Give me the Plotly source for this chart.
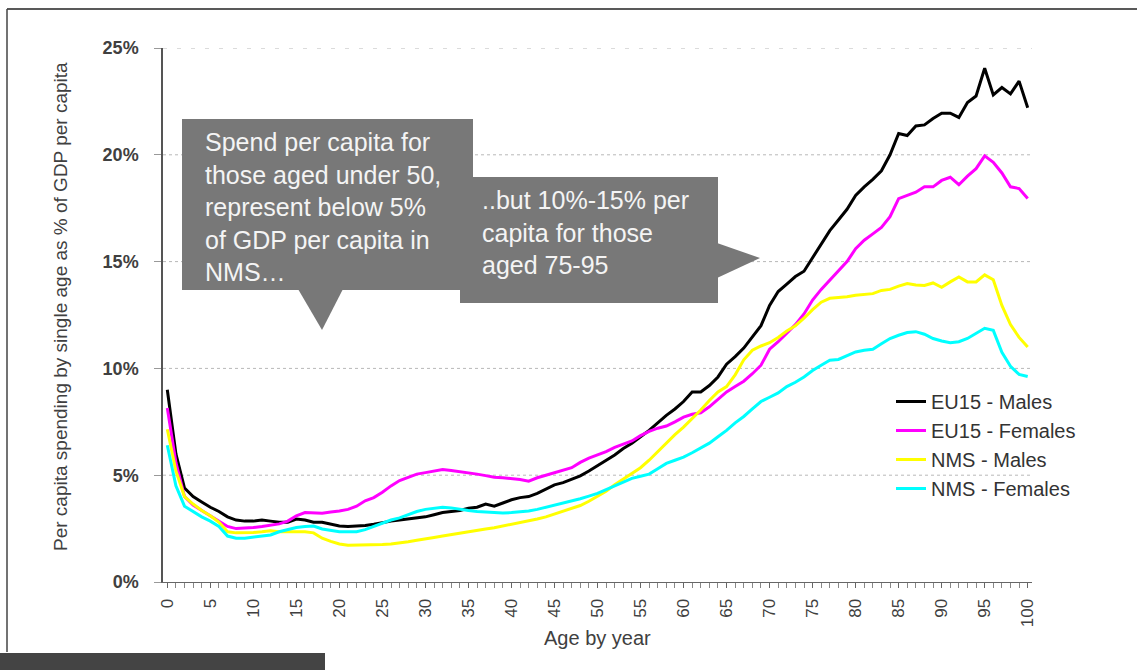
import plotly.graph_objects as go

# Ages 0..100
ages = list(range(0, 101))

# Per capita health spending by single age, % of GDP per capita
eu15_males = [
    9.0, 6.0, 4.4, 4.0, 3.75, 3.5, 3.3, 3.05, 2.9, 2.85,
    2.85, 2.9, 2.85, 2.8, 2.8, 2.95, 2.9, 2.8, 2.8, 2.7,
    2.62, 2.6, 2.62, 2.65, 2.7, 2.78, 2.85, 2.9, 2.95, 3.0,
    3.05, 3.15, 3.25, 3.3, 3.35, 3.45, 3.5, 3.65, 3.55, 3.7,
    3.85, 3.95, 4.0, 4.15, 4.35, 4.55, 4.65, 4.8, 4.97, 5.2,
    5.45, 5.7, 5.95, 6.25, 6.5, 6.8, 7.1, 7.45, 7.8, 8.1,
    8.45, 8.9, 8.9, 9.2, 9.6, 10.2, 10.55, 10.95, 11.5, 12.0,
    12.95, 13.6, 13.95, 14.3, 14.55, 15.2, 15.85, 16.45, 16.95, 17.45,
    18.1, 18.5, 18.85, 19.25, 20.0, 21.0, 20.9, 21.35, 21.4, 21.7,
    21.95, 21.95, 21.75, 22.45, 22.75, 24.05, 22.8, 23.15, 22.85, 23.45,
    22.2,
]
eu15_females = [
    8.15, 5.6, 4.0, 3.6, 3.35, 3.1, 2.85, 2.6, 2.5, 2.52,
    2.55, 2.6, 2.65, 2.72, 2.85, 3.1, 3.25, 3.25, 3.22, 3.28,
    3.32, 3.4, 3.55, 3.8, 3.95, 4.2, 4.5, 4.75, 4.9, 5.05,
    5.12, 5.2, 5.27, 5.22, 5.17, 5.12, 5.05, 4.98, 4.9, 4.88,
    4.85, 4.8, 4.72, 4.88, 5.0, 5.12, 5.22, 5.35, 5.6, 5.8,
    5.95, 6.1, 6.3, 6.45, 6.6, 6.85, 7.05, 7.2, 7.3, 7.5,
    7.72, 7.85, 7.92, 8.2, 8.55, 8.9, 9.15, 9.4, 9.75, 10.15,
    10.9, 11.25, 11.65, 12.05, 12.55, 13.2, 13.7, 14.15, 14.55, 15.0,
    15.6, 16.0, 16.3, 16.6, 17.1, 17.95, 18.1, 18.25, 18.5, 18.5,
    18.8, 18.95, 18.6, 19.0, 19.35, 19.95, 19.65, 19.15, 18.5, 18.42,
    17.95,
]
nms_males = [
    7.15, 5.2, 4.0, 3.65, 3.35, 3.1, 2.8, 2.35, 2.3, 2.3,
    2.32, 2.35, 2.4, 2.35, 2.35, 2.35, 2.35, 2.3, 2.05, 1.9,
    1.78, 1.72, 1.72, 1.75, 1.75, 1.75, 1.78, 1.82, 1.88, 1.95,
    2.0, 2.08, 2.15, 2.22, 2.3, 2.36, 2.42, 2.48, 2.54, 2.62,
    2.7, 2.78, 2.85, 2.95, 3.05, 3.18, 3.3, 3.42, 3.58, 3.78,
    4.0, 4.25, 4.55, 4.82, 5.1, 5.35, 5.7, 6.1, 6.5, 6.9,
    7.25, 7.65, 8.05, 8.5, 8.9, 9.15, 9.7, 10.4, 10.85, 11.05,
    11.2, 11.45, 11.75, 12.0, 12.35, 12.75, 13.1, 13.28, 13.3, 13.35,
    13.42, 13.45, 13.5, 13.65, 13.7, 13.85, 13.97, 13.9, 13.88, 14.0,
    13.8, 14.05, 14.28, 14.05, 14.05, 14.38, 14.15, 12.95, 12.05, 11.45,
    11.0,
]
nms_females = [
    6.4, 4.5, 3.55, 3.3, 3.05, 2.85, 2.6, 2.15, 2.05, 2.05,
    2.1, 2.15, 2.2, 2.35, 2.45, 2.55, 2.6, 2.62, 2.48, 2.4,
    2.35, 2.35, 2.35, 2.45, 2.6, 2.78, 2.9, 3.0, 3.15, 3.3,
    3.4, 3.45, 3.5, 3.47, 3.4, 3.35, 3.3, 3.27, 3.24, 3.23,
    3.25, 3.28, 3.32, 3.4, 3.5, 3.58, 3.67, 3.78, 3.9, 4.02,
    4.15, 4.32, 4.5, 4.7, 4.85, 4.95, 5.05, 5.3, 5.55, 5.7,
    5.85, 6.05, 6.28, 6.5, 6.8, 7.1, 7.45, 7.75, 8.1, 8.45,
    8.65, 8.85, 9.15, 9.35, 9.6, 9.9, 10.15, 10.38, 10.42, 10.6,
    10.77, 10.85, 10.9, 11.15, 11.4, 11.55, 11.68, 11.72, 11.6, 11.4,
    11.28, 11.2, 11.25, 11.4, 11.65, 11.88, 11.78, 10.75, 10.1, 9.72,
    9.62,
]

series_names = ["EU15 - Males", "EU15 - Females", "NMS - Males", "NMS - Females"]
series_colors = ["#000000", "#ff00ff", "#ffff00", "#00ffff"]
series_values = [eu15_males, eu15_females, nms_males, nms_females]

y_ticks = [0, 5, 10, 15, 20, 25]
y_tick_labels = ["0%", "5%", "10%", "15%", "20%", "25%"]
x_ticks = list(range(0, 101, 5))

callout_left = ["Spend per capita for", "those aged under 50,", "represent below 5%",
                "of GDP per capita in", "NMS…"]
callout_right = ["..but 10%-15% per", "capita for those", "aged 75-95"]

W, H = 1137, 670
ML, MR, MT, MB = 163, 105, 48, 88
PW, PH = W - ML - MR, H - MT - MB


def px(x):
    """pixel column -> paper x"""
    return (x - ML) / PW


def py(y):
    """pixel row -> paper y"""
    return (H - MB - y) / PH


FONT = "Arial, Liberation Sans, sans-serif"
TXT = "#404040"
BOX = "#787878"

fig = go.Figure()
for name, col, vals in zip(series_names, series_colors, series_values):
    fig.add_trace(go.Scatter(x=ages, y=vals, mode="lines", name=name,
                             line=dict(color=col, width=3)))

shapes = []
# horizontal gridlines
for v in y_ticks[1:]:
    shapes.append(dict(type="line", xref="paper", yref="y", x0=0, x1=1, y0=v, y1=v,
                       line=dict(color="#b8b8b8", width=1,
                                 dash="4px,10px" if v == 25 else "dot"),
                       layer="below"))

# page frame
shapes.append(dict(type="line", xref="paper", yref="paper", x0=px(7), x1=px(W),
                   y0=py(9), y1=py(9), line=dict(color="#222", width=1.5)))
shapes.append(dict(type="line", xref="paper", yref="paper", x0=px(7), x1=px(7),
                   y0=py(9), y1=py(652), line=dict(color="#444", width=1.5)))
shapes.append(dict(type="rect", xref="paper", yref="paper", x0=px(0), x1=px(325),
                   y0=py(653), y1=py(H), fillcolor="#444444", line=dict(width=0)))

# right callout box with pointer
shapes.append(dict(type="rect", xref="paper", yref="paper", x0=px(460), x1=px(718),
                   y0=py(177), y1=py(303), fillcolor=BOX, line=dict(width=0)))
shapes.append(dict(type="path", xref="paper", yref="paper",
                   path=f"M {px(717)} {py(243)} L {px(760)} {py(258)} L {px(717)} {py(278)} Z",
                   fillcolor=BOX, line=dict(width=0)))
# left callout box with pointer
shapes.append(dict(type="rect", xref="paper", yref="paper", x0=px(182), x1=px(473),
                   y0=py(119), y1=py(290), fillcolor=BOX, line=dict(width=0)))
shapes.append(dict(type="path", xref="paper", yref="paper",
                   path=f"M {px(298)} {py(289)} L {px(343)} {py(289)} L {px(322)} {py(330)} Z",
                   fillcolor=BOX, line=dict(width=0)))

annotations = [
    dict(text="<br>".join(callout_left), xref="paper", yref="paper",
         x=px(203), y=py(207), xanchor="left", yanchor="middle", align="left",
         showarrow=False, font=dict(family=FONT, size=25, color="#f4f4f4")),
    dict(text="<br>".join(callout_right), xref="paper", yref="paper",
         x=px(480), y=py(233), xanchor="left", yanchor="middle", align="left",
         showarrow=False, font=dict(family=FONT, size=25, color="#f4f4f4")),
    dict(text="Per capita spending by single age as % of GDP per capita",
         xref="paper", yref="paper", x=px(60), y=py(307), textangle=-90,
         xanchor="center", yanchor="middle", showarrow=False,
         font=dict(family=FONT, size=19, color=TXT)),
    dict(text="Age by year", xref="paper", yref="paper", x=px(597), y=py(638),
         xanchor="center", yanchor="middle", showarrow=False,
         font=dict(family=FONT, size=20, color=TXT)),
]

fig.update_layout(
    width=W, height=H,
    margin=dict(l=ML, r=MR, t=MT, b=MB, autoexpand=False),
    paper_bgcolor="white", plot_bgcolor="white",
    font=dict(family=FONT, color=TXT),
    shapes=shapes, annotations=annotations,
    showlegend=True,
    legend=dict(x=px(891), y=py(382), xanchor="left", yanchor="top",
                bgcolor="rgba(0,0,0,0)", font=dict(family=FONT, size=20, color="#333"),
                itemwidth=30, tracegroupgap=0),
    xaxis=dict(range=[-0.5, 100.5], tickmode="array", tickvals=x_ticks,
               ticktext=[str(t) for t in x_ticks], tickangle=-90,
               ticks="outside", ticklen=5, tickcolor="#666", tickwidth=1,
               minor=dict(dtick=1, ticks="outside", ticklen=5, tickcolor="#888", tickwidth=1),
               showline=True, linecolor="#666", linewidth=1.2,
               showgrid=False, zeroline=False, ticklabelstandoff=4,
               tickfont=dict(family=FONT, size=17, color=TXT)),
    yaxis=dict(range=[0, 25], tickmode="array", tickvals=y_ticks, ticktext=y_tick_labels,
               ticks="outside", ticklen=7, tickcolor="#999", tickwidth=1,
               showline=True, linecolor="#555", linewidth=1.5,
               showgrid=False, zeroline=False, ticklabelstandoff=12,
               tickfont=dict(family=FONT, size=18, color=TXT, weight="bold")),
)

fig.write_html("out.html")
